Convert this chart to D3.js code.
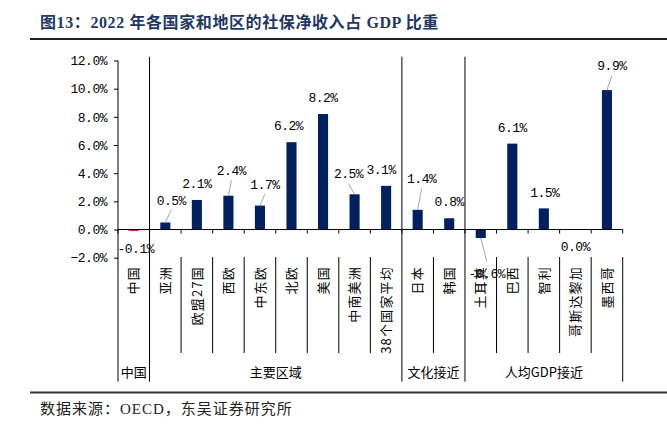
<!DOCTYPE html>
<html>
<head>
<meta charset="utf-8">
<script src="https://cdn.jsdelivr.net/npm/d3@7"></script>
<style>
  body { margin: 0; background: #fff; }
  svg { display: block; }
</style>
</head>
<body>
<svg id="chart" width="667" height="429"></svg>
<script>
// categories and values
const categories = ['中国', '亚洲', '欧盟27国', '西欧', '中东欧', '北欧', '美国', '中南美洲',
    '38个国家平均', '日本', '韩国', '土耳其', '巴西', '智利', '哥斯达黎加', '墨西哥'];
const values = [-0.1, 0.5, 2.1, 2.4, 1.7, 6.2, 8.2, 2.5, 3.1, 1.4, 0.8, -0.6, 6.1, 1.5, 0.0, 9.9];
const groupNames = ['中国', '主要区域', '文化接近', '人均GDP接近'];
const groupSizes = [1, 8, 2, 5];
const yTicks = [-2, 0, 2, 4, 6, 8, 10, 12];

// label placement (px nudges from the default spot above/below the bar)
const labelDx = [2, 6, 0, 3, 5, -3, 0, -6, -5, 4, 0, 6, 0, 1, 0, 5];
const labelDy = [1, -6, 0, -9, -5, 0, 0, -4, 0, -15, 0, 19, 0, 0, 33, -8];
const leader = [0, 1, 0, 1, 1, 0, 0, 1, 0, 1, 0, 1, 0, 0, 0, 1];

const svg = d3.select('#chart');
const monoFont = '"Liberation Mono", "DejaVu Sans Mono", monospace';
const cjkFont = '"Noto Sans CJK SC", sans-serif';

const left = 118, right = 622.7;
const catTop = 257, catBottom = 353, groupBottom = 381.7, sepTop = 56.7;

const x = d3.scaleBand().domain(categories).range([left, right]).paddingInner(0).paddingOuter(0);
const y = d3.scaleLinear().domain([-2, 12]).range([257.7, 60.5]);
const bw = x.bandwidth() * 0.32;

// title + rules
svg.append('text')
    .attr('x', 40).attr('y', 28)
    .attr('font-family', '"Liberation Serif", "Noto Sans CJK SC", serif')
    .attr('font-weight', 'bold')
    .attr('font-size', 16)
    .attr('letter-spacing', 0.6)
    .attr('fill', '#1f3864')
    .text('图13：2022 年各国家和地区的社保净收入占 GDP 比重');
svg.append('line').attr('x1', 30).attr('x2', 667).attr('y1', 39).attr('y2', 39)
    .attr('stroke', '#222').attr('stroke-width', 2);
svg.append('line').attr('x1', 30).attr('x2', 667).attr('y1', 392.5).attr('y2', 392.5)
    .attr('stroke', '#333').attr('stroke-width', 2);
svg.append('text')
    .attr('x', 40).attr('y', 414)
    .attr('font-family', '"Liberation Serif", "Noto Sans CJK SC", serif')
    .attr('font-size', 15)
    .attr('letter-spacing', 1)
    .attr('fill', '#222')
    .text('数据来源：OECD，东吴证券研究所');

// y axis
const yAxis = svg.append('g')
    .attr('transform', `translate(${left},0)`)
    .call(d3.axisLeft(y).tickValues(yTicks).tickSize(4).tickPadding(7)
        .tickFormat(d => d3.format('.1f')(d) + '%'));
yAxis.select('.domain').remove();
yAxis.selectAll('line').attr('stroke', '#000');
yAxis.selectAll('text').attr('font-family', monoFont).attr('font-size', 13)
    .attr('letter-spacing', -0.5).attr('fill', '#000');
svg.append('line').attr('x1', left).attr('x2', left).attr('y1', y(12)).attr('y2', groupBottom)
    .attr('stroke', '#000');

// bars
svg.append('g').selectAll('rect')
    .data(categories)
    .join('rect')
    .attr('x', d => x(d) + (x.bandwidth() - bw) / 2)
    .attr('width', bw)
    .attr('y', (d, i) => y(Math.max(0, values[i])))
    .attr('height', (d, i) => Math.abs(y(values[i]) - y(0)))
    .attr('fill', (d, i) => i === 0 ? '#e3191c' : '#002060');

// x axis line and ticks
const bounds = categories.map(c => x(c)).concat([right]);
svg.append('line').attr('x1', left).attr('x2', right).attr('y1', y(0)).attr('y2', y(0))
    .attr('stroke', '#000');
svg.append('g').selectAll('line')
    .data(bounds)
    .join('line')
    .attr('x1', d => d).attr('x2', d => d)
    .attr('y1', y(0)).attr('y2', y(0) + 4)
    .attr('stroke', '#000');

// group boundaries
const groupStarts = [];
let acc = 0;
groupSizes.forEach(n => { groupStarts.push(acc); acc += n; });
const groupEdges = groupStarts.map(s => bounds[s]).concat([right]);

// lines between categories inside label area
svg.append('g').selectAll('line')
    .data(bounds.slice(1, -1).filter((b, i) => !groupStarts.includes(i + 1)))
    .join('line')
    .attr('x1', d => d).attr('x2', d => d)
    .attr('y1', catTop).attr('y2', catBottom)
    .attr('stroke', '#000');
// separators between groups
svg.append('g').selectAll('line')
    .data(groupEdges.slice(1, -1))
    .join('line')
    .attr('x1', d => d).attr('x2', d => d)
    .attr('y1', sepTop).attr('y2', groupBottom)
    .attr('stroke', '#000');
svg.append('line').attr('x1', right).attr('x2', right).attr('y1', catTop).attr('y2', groupBottom)
    .attr('stroke', '#000');

// category labels (rotated)
svg.append('g').selectAll('text')
    .data(categories)
    .join('text')
    .attr('transform', d => `translate(${x(d) + x.bandwidth() / 2},266) rotate(-90)`)
    .attr('text-anchor', 'end')
    .attr('dy', '0.36em')
    .attr('font-family', cjkFont)
    .attr('font-size', 13)
    .attr('letter-spacing', 1.2)
    .attr('fill', '#000')
    .text(d => d);

// group labels
svg.append('g').selectAll('text')
    .data(groupNames)
    .join('text')
    .attr('x', (d, i) => (groupEdges[i] + groupEdges[i + 1]) / 2)
    .attr('y', 372.7)
    .attr('dy', '0.36em')
    .attr('text-anchor', 'middle')
    .attr('font-family', cjkFont)
    .attr('font-size', 13)
    .attr('fill', '#000')
    .text(d => d);

// value labels
const labelPos = categories.map((c, i) => {
    const v = values[i];
    const cx = x(c) + x.bandwidth() / 2;
    const base = v < 0 ? y(v) + 16.5 : y(v) - 16.5;
    return { cx, lx: cx + labelDx[i], ly: base + labelDy[i], v, edge: y(v) };
});

svg.append('g').selectAll('line')
    .data(labelPos.filter((p, i) => leader[i]))
    .join('line')
    .attr('x1', p => p.lx)
    .attr('y1', p => p.v < 0 ? p.ly - 12 : p.ly + 10)
    .attr('x2', p => p.cx)
    .attr('y2', p => p.edge)
    .attr('stroke', '#a6a6a6')
    .attr('stroke-width', 1);

svg.append('g').selectAll('text')
    .data(labelPos)
    .join('text')
    .attr('x', p => p.lx)
    .attr('y', p => p.ly)
    .attr('dy', '0.36em')
    .attr('text-anchor', 'middle')
    .attr('font-family', monoFont)
    .attr('font-size', 13)
    .attr('letter-spacing', -0.5)
    .attr('fill', '#000')
    .text(p => d3.format('.1f')(p.v).replace('−', '-') + '%');
</script>
</body>
</html>
